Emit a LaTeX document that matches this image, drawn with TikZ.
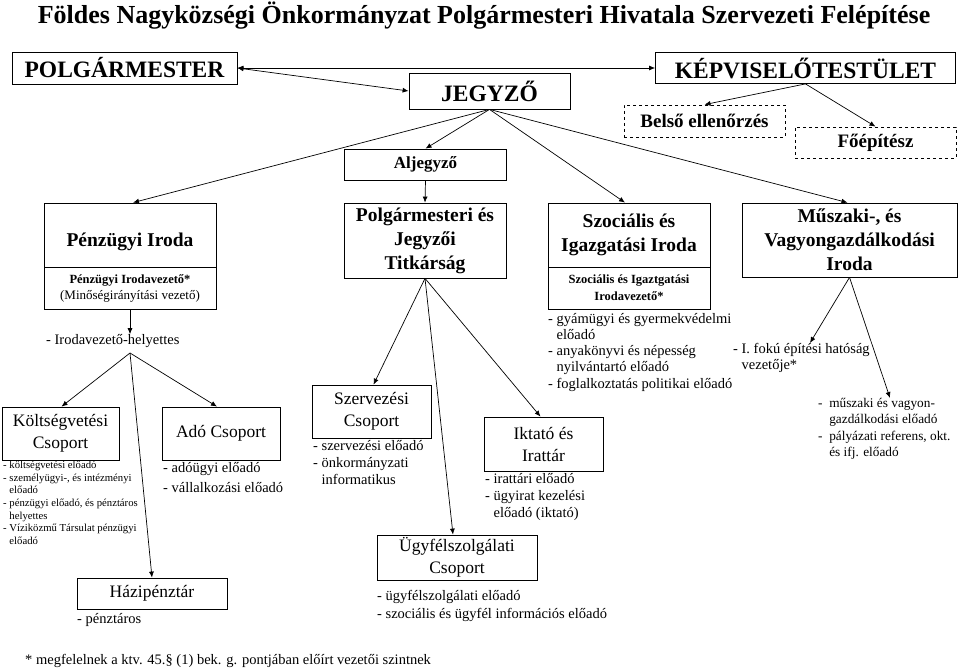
\documentclass[tikz,border=0pt]{standalone}
\usepackage{fontspec}
\setmainfont{Liberation Serif}
\usetikzlibrary{arrows.meta}
\newcommand{\dashgap}{\phantom{- }}

\begin{document}
\begin{tikzpicture}[x=1pt, y=-1pt,
  every node/.style={inner sep=2pt},
  box/.style={draw, line width=0.8pt, align=center, font=\fontsize{17.5}{22}\selectfont},
  head/.style={box, font=\bfseries\fontsize{19.5}{24}\selectfont},
  sub/.style={box, font=\fontsize{13}{17}\selectfont},
  topbox/.style={box, font=\bfseries\fontsize{23.5}{26}\selectfont},
  dbox/.style={box, dashed, font=\bfseries\fontsize{19}{20}\selectfont},
  list/.style={anchor=north west, align=left, inner sep=0pt, font=\fontsize{14.5}{17}\selectfont},
  arr/.style={-{Latex[length=6pt,width=5pt]}, line width=0.7pt},
  darr/.style={{Latex[length=6pt,width=5pt]}-{Latex[length=6pt,width=5pt]}, line width=0.7pt}
]
\useasboundingbox (0,0) rectangle (960,671);

% ---------------- title ----------------
\node[font=\bfseries\fontsize{26}{30}\selectfont] (title) at (484,16)
  {Földes Nagyközségi Önkormányzat Polgármesteri Hivatala Szervezeti Felépítése};

% ---------------- top level ----------------
\node[topbox, minimum width=225pt, minimum height=32pt] (polg) at (124.5,68) {POLGÁRMESTER};
\node[topbox, minimum width=161pt, minimum height=36pt] (jegyzo) at (489.5,91) {JEGYZŐ};
\node[topbox, minimum width=300pt, minimum height=31pt] (kepv) at (805.5,68) {KÉPVISELŐTESTÜLET};
\node[dbox, minimum width=161pt, minimum height=32pt] (belso) at (704.5,121) {Belső ellenőrzés};
\node[dbox, minimum width=161pt, minimum height=31pt] (foep) at (875.5,142.5) {Főépítész};
\node[box, font=\bfseries\fontsize{17}{18}\selectfont, minimum width=162pt, minimum height=31pt] (aljegyzo) at (425.5,164.5) {Aljegyző};

% ---------------- offices ----------------
\node[head, text height=28pt, minimum width=172pt, minimum height=64pt] (penz) at (130,235) {Pénzügyi Iroda};
\node[sub, minimum width=172pt, minimum height=42pt] (penzvez) at (130,288)
  {\textbf{\fontsize{12.5}{16}\selectfont Pénzügyi Irodavezető*}\\[-1pt](Minőségirányítási vezető)};
\node[head, minimum width=162pt, minimum height=75pt] (titk) at (425,240.5) {Polgármesteri és\\Jegyzői\\Titkárság};
\node[head, minimum width=162pt, minimum height=64pt] (szoc) at (629,235) {Szociális és\\Igazgatási Iroda};
\node[sub, font=\bfseries\fontsize{12.5}{17}\selectfont, minimum width=162pt, minimum height=42pt] (szocvez) at (629,288)
  {Szociális és Igaztgatási\\Irodavezető*};
\node[head, minimum width=215pt, minimum height=74pt] (musz) at (849.5,240) {Műszaki-, és\\Vagyongazdálkodási\\Iroda};

% ---------------- Pénzügyi Iroda groups ----------------
\node[list, anchor=west, inner sep=0pt] (helyettes) at (46,341) {- Irodavezető-helyettes};
\coordinate (fork) at (130,353);
\node[box, minimum width=117pt, minimum height=53pt] (kolts) at (60.5,433.5) {Költségvetési\\Csoport};
\node[list, font=\fontsize{10.7}{12.6}\selectfont] (koltslist) at (3,461)
  {- költségvetési előadó\\- személyügyi-, és intézményi\\\dashgap előadó\\- pénzügyi előadó, és pénztáros\\\dashgap helyettes\\- Víziközmű Társulat pénzügyi\\\dashgap előadó};
\node[box, minimum width=118pt, minimum height=53pt] (ado) at (221,433.5) {Adó Csoport};
\node[list, font=\fontsize{14.5}{20}\selectfont] (adolist) at (163,462) {- adóügyi előadó\\- vállalkozási előadó};
\node[box, minimum width=150pt, minimum height=31pt] (hazi) at (152,593.5) {Házipénztár};
\node[list] (hazilist) at (77,613) {- pénztáros};

% ---------------- Titkárság groups ----------------
\node[box, minimum width=119pt, minimum height=53pt] (szerv) at (371.5,411.5) {Szervezési\\Csoport};
\node[list] (szervlist) at (313,440) {- szervezési előadó\\- önkormányzati\\\dashgap informatikus};
\node[box, minimum width=119pt, minimum height=54pt] (iktato) at (543.5,444) {Iktató és\\Irattár};
\node[list] (iktatolist) at (485,473) {- irattári előadó\\- ügyirat kezelési\\\dashgap előadó (iktató)};
\node[box, minimum width=160pt, minimum height=45pt] (ugyf) at (457,557.5) {Ügyfélszolgálati\\Csoport};
\node[list, font=\fontsize{14.5}{18}\selectfont] (ugyflist) at (377,590) {- ügyfélszolgálati előadó\\- szociális és ügyfél információs előadó};

% ---------------- Szociális / Műszaki lists ----------------
\node[list, font=\fontsize{14.5}{16.2}\selectfont] (szoclist) at (548,313)
  {- gyámügyi és gyermekvédelmi\\\dashgap előadó\\- anyakönyvi és népesség\\\dashgap nyilvántartó előadó\\- foglalkoztatás politikai előadó};
\node[list, font=\fontsize{14.5}{16.5}\selectfont] (hatosag) at (733,343) {- I. fokú építési hatóság\\\dashgap vezetője*};
\node[list, font=\fontsize{13.3}{16.5}\selectfont] (muszlist) at (818,398)
  {-\ \ műszaki és vagyon-\\\phantom{-\ \ }gazdálkodási előadó\\-\ \ pályázati referens, okt.\\\phantom{-\ \ }és ifj. előadó};

% ---------------- footnote ----------------
\node[list] (note) at (25,654) {* megfelelnek a ktv. 45.§ (1) bek. g. pontjában előírt vezetői szintnek};

% ---------------- arrows ----------------
\draw[darr] (polg.east) -- (kepv.west);
\draw[darr] (polg.east) -- (jegyzo.west);
\draw[arr] (kepv.south) -- (belso.north);
\draw[arr] (kepv.south) -- (foep.north);
\draw[arr] (jegyzo.south) -- (aljegyzo.north);
\draw[arr] (jegyzo.south) -- ([xshift=3pt]penz.north);
\draw[arr] (jegyzo.south) -- ([xshift=-4pt]szoc.north);
\draw[arr] (jegyzo.south) -- ([xshift=-2pt]musz.north);
\draw[arr] (aljegyzo.south) -- (titk.north);

\draw[arr] (penzvez.south) -- (penzvez.south |- helyettes.north);
\draw[arr] (fork) -- ([xshift=1pt]kolts.north);
\draw[arr] (fork) -- ([xshift=-4pt]ado.north);
\draw[arr] (fork) -- (hazi.north);

\draw[arr] (titk.south) -- ([xshift=2pt]szerv.north);
\draw[arr] (titk.south) -- ([xshift=-4pt]ugyf.north);
\draw[arr] (titk.south) -- ([xshift=-3pt]iktato.north);

\draw[arr] (musz.south) -- ([xshift=77pt]hatosag.north west);
\draw[arr] (musz.south) -- ([xshift=72pt]muszlist.north west);

\end{tikzpicture}
\end{document}
